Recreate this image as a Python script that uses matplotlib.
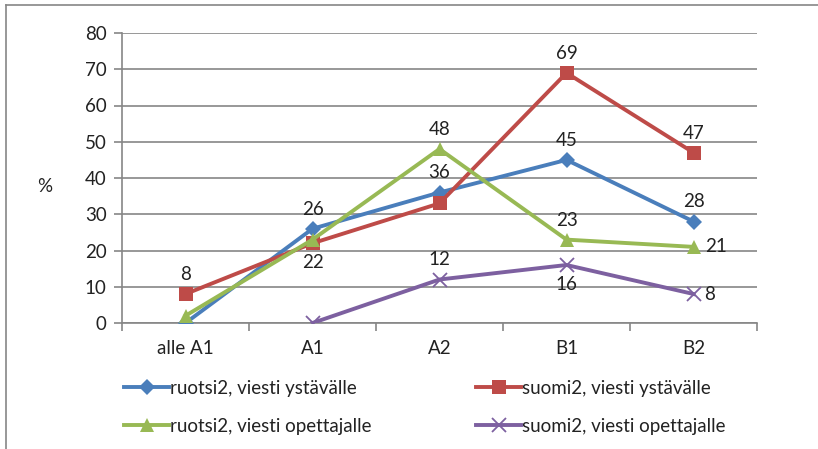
import numpy as np
import matplotlib
matplotlib.use("Agg")
import matplotlib.pyplot as plt
from matplotlib.lines import Line2D

plt.rcParams["font.family"] = ["Lato", "DejaVu Sans"]

# data
levels = ["alle A1", "A1", "A2", "B1", "B2"]
ruotsi_ystavalle = [0, 26, 36, 45, 28]
suomi_ystavalle = [8, 22, 33, 69, 47]
ruotsi_opettajalle = [2, 23, 48, 23, 21]
suomi_opettajalle = [np.nan, 0, 12, 16, 8]
series_names = ["ruotsi2, viesti ystävälle", "suomi2, viesti ystävälle",
                "ruotsi2, viesti opettajalle", "suomi2, viesti opettajalle"]
yticks = [0, 10, 20, 30, 40, 50, 60, 70, 80]

# where each series shows its value labels (index -> placement)
label_spots = [
    {1: "above", 2: "above", 3: "above", 4: "above"},
    {0: "above", 1: "below", 3: "above", 4: "above"},
    {2: "above", 3: "above", 4: "right"},
    {2: "above", 3: "below", 4: "right"},
]

colors = ["#4A7EBB", "#BE4B48", "#98B954", "#7D60A0"]
markers = ["D", "s", "^", "x"]
msizes = [8, 10, 10, 10]
fs = 13.5
txt = "#222222"

fig = plt.figure(figsize=(8.18, 4.49), dpi=100)
ax = fig.add_axes([122 / 818, 1 - 323 / 449, 635 / 818, 290 / 449])

x = np.arange(len(levels))
all_series = [ruotsi_ystavalle, suomi_ystavalle, ruotsi_opettajalle, suomi_opettajalle]
handles = []
for vals, name, c, m, ms, spots in zip(all_series, series_names, colors, markers, msizes, label_spots):
    ln, = ax.plot(x, vals, color=c, lw=2.8, marker=m, ms=ms, mew=1.3 if m == "x" else 0,
                  mec=c, label=name, zorder=3)
    handles.append(ln)
    for i, where in spots.items():
        v = vals[i]
        if where == "above":
            ax.annotate(f"{v:g}", (x[i], v), xytext=(0, 8), textcoords="offset points",
                        ha="center", va="bottom", fontsize=fs, color=txt)
        elif where == "below":
            ax.annotate(f"{v:g}", (x[i], v), xytext=(0, -8), textcoords="offset points",
                        ha="center", va="top", fontsize=fs, color=txt)
        else:
            ax.annotate(f"{v:g}", (x[i], v), xytext=(8, 0), textcoords="offset points",
                        ha="left", va="center", fontsize=fs, color=txt)

ax.set_xlim(-0.5, len(levels) - 0.5)
ax.set_ylim(0, 80)
ax.set_yticks(yticks)
ax.set_xticks(x)
ax.set_xticklabels(levels)
ax.set_xticks(np.arange(-0.5, len(levels)), minor=True)
ax.tick_params(axis="x", which="major", length=0, pad=12, labelsize=fs, labelcolor=txt)
ax.tick_params(axis="x", which="minor", length=6, width=1.2, color="#868686")
ax.tick_params(axis="y", length=6, width=1.2, color="#868686", pad=5, labelsize=fs,
               labelcolor=txt)
ax.grid(axis="y", color="#868686", lw=1.2)
ax.set_axisbelow(True)
for s in ["top", "right"]:
    ax.spines[s].set_visible(False)
for s in ["left", "bottom"]:
    ax.spines[s].set_color("#868686")
    ax.spines[s].set_linewidth(1.2)

fig.text(45 / 818, 1 - 187 / 449, "%", fontsize=fs, color=txt, ha="center", va="center")

# legend filled row by row like the original
order = [0, 2, 1, 3]
leg = fig.legend(handles=[handles[k] for k in order], loc="upper left",
                 bbox_to_anchor=(124 / 818, 1 - 380 / 449),
                 ncol=2, frameon=False, fontsize=fs, handlelength=2.4, handletextpad=0.05,
                 columnspacing=5.6, labelspacing=1.1, borderpad=0, borderaxespad=0)
for t in leg.get_texts():
    t.set_color(txt)

# outer chart frame (top and left edges visible)
fig.add_artist(Line2D([6 / 818, 6 / 818], [0, 1 - 5 / 449], transform=fig.transFigure,
                      color="#868686", lw=1.2))
fig.add_artist(Line2D([6 / 818, 1], [1 - 5 / 449, 1 - 5 / 449], transform=fig.transFigure,
                      color="#868686", lw=1.2))

fig.savefig("out.png", dpi=100)
